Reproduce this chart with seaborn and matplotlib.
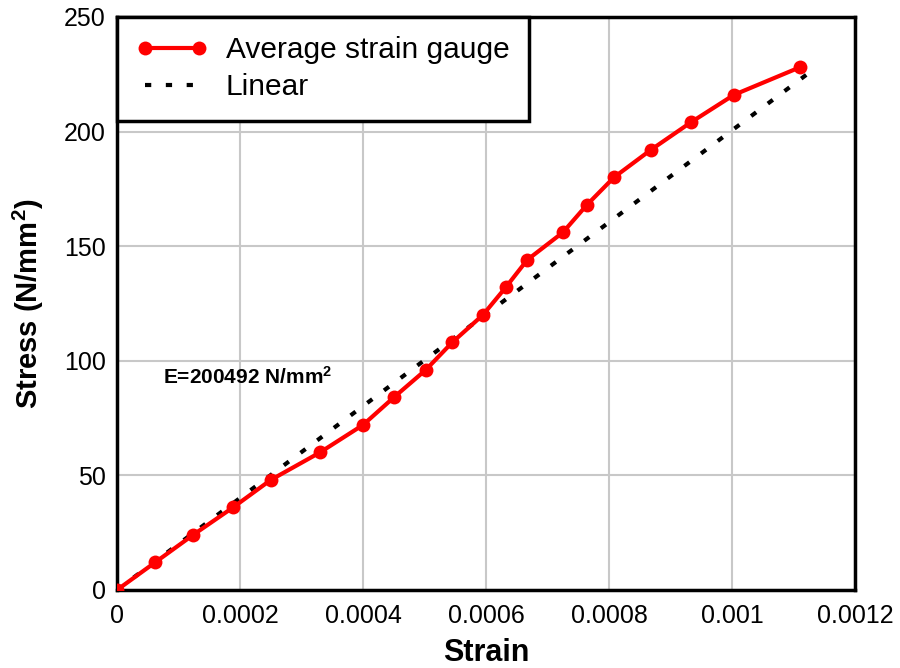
import numpy as np
import pandas as pd
import seaborn as sns
import matplotlib.pyplot as plt

# ================= data =================
strain = [0, 0.0000618, 0.0001236, 0.0001886, 0.00025, 0.00033, 0.0004, 0.00045,
          0.000502, 0.000545, 0.000595, 0.000632, 0.000667, 0.000725, 0.000764,
          0.000808, 0.000868, 0.000933, 0.001003, 0.00111]
stress = [0, 12, 24, 36, 48, 60, 72, 84, 96, 108, 120, 132, 144, 156, 168,
          180, 192, 204, 216, 228]

linear_strain = [0, 0.001137]
linear_stress = [0, 228]

x_ticks = [0, 0.0002, 0.0004, 0.0006, 0.0008, 0.001, 0.0012]
x_tick_labels = ["0", "0.0002", "0.0004", "0.0006", "0.0008", "0.001", "0.0012"]
y_ticks = [0, 50, 100, 150, 200, 250]

df = pd.DataFrame({"Strain": strain, "Stress": stress})
df_lin = pd.DataFrame({"Strain": linear_strain, "Stress": linear_stress})

# ================= style =================
sns.set_theme(style="whitegrid")
plt.rcParams["font.family"] = ["Liberation Sans", "DejaVu Sans"]
plt.rcParams["mathtext.default"] = "regular"
plt.rcParams["text.color"] = "black"

fig = plt.figure(figsize=(9, 6.68), dpi=100)
ax = fig.add_axes([0.13, 0.1168, 0.82, 0.8578])

sns.lineplot(data=df, x="Strain", y="Stress", ax=ax, color="red", linewidth=3,
             marker="o", markersize=10, markeredgewidth=0, label="Average strain gauge",
             zorder=3)
sns.lineplot(data=df_lin, x="Strain", y="Stress", ax=ax, color="black", linewidth=3,
             linestyle=(0, (1.5, 3.5)), label="Linear", zorder=2)

ax.set_xlim(0, 0.0012)
ax.set_ylim(0, 250)
ax.set_xticks(x_ticks)
ax.set_xticklabels(x_tick_labels)
ax.set_yticks(y_ticks)
ax.tick_params(axis="both", labelsize=18, length=0, colors="black")
ax.tick_params(axis="x", pad=10)
ax.tick_params(axis="y", pad=8)
ax.grid(True, color="#c8c8c8", linewidth=1.5)
for s in ax.spines.values():
    s.set_color("black")
    s.set_linewidth(2.5)

ax.set_xlabel("Strain", fontsize=22, fontweight="bold", labelpad=7, color="black")
ax.set_ylabel("Stress (N/mm$^2$)", fontsize=21, fontweight="bold", labelpad=13, color="black")

ax.text(0.0000748, 90, "E=200492 N/mm$^2$", fontsize=15, fontweight="bold", color="black")

leg = ax.legend(loc="upper left", borderaxespad=0, fontsize=21.5, frameon=True,
                fancybox=False, handlelength=2.4, borderpad=0.65, labelspacing=0.3,
                handletextpad=0.6, numpoints=2)
leg.get_frame().set_edgecolor("black")
leg.get_frame().set_linewidth(2.5)
leg.get_frame().set_alpha(1)
for t in leg.get_texts():
    t.set_color("black")

fig.savefig("out.png", dpi=100)
